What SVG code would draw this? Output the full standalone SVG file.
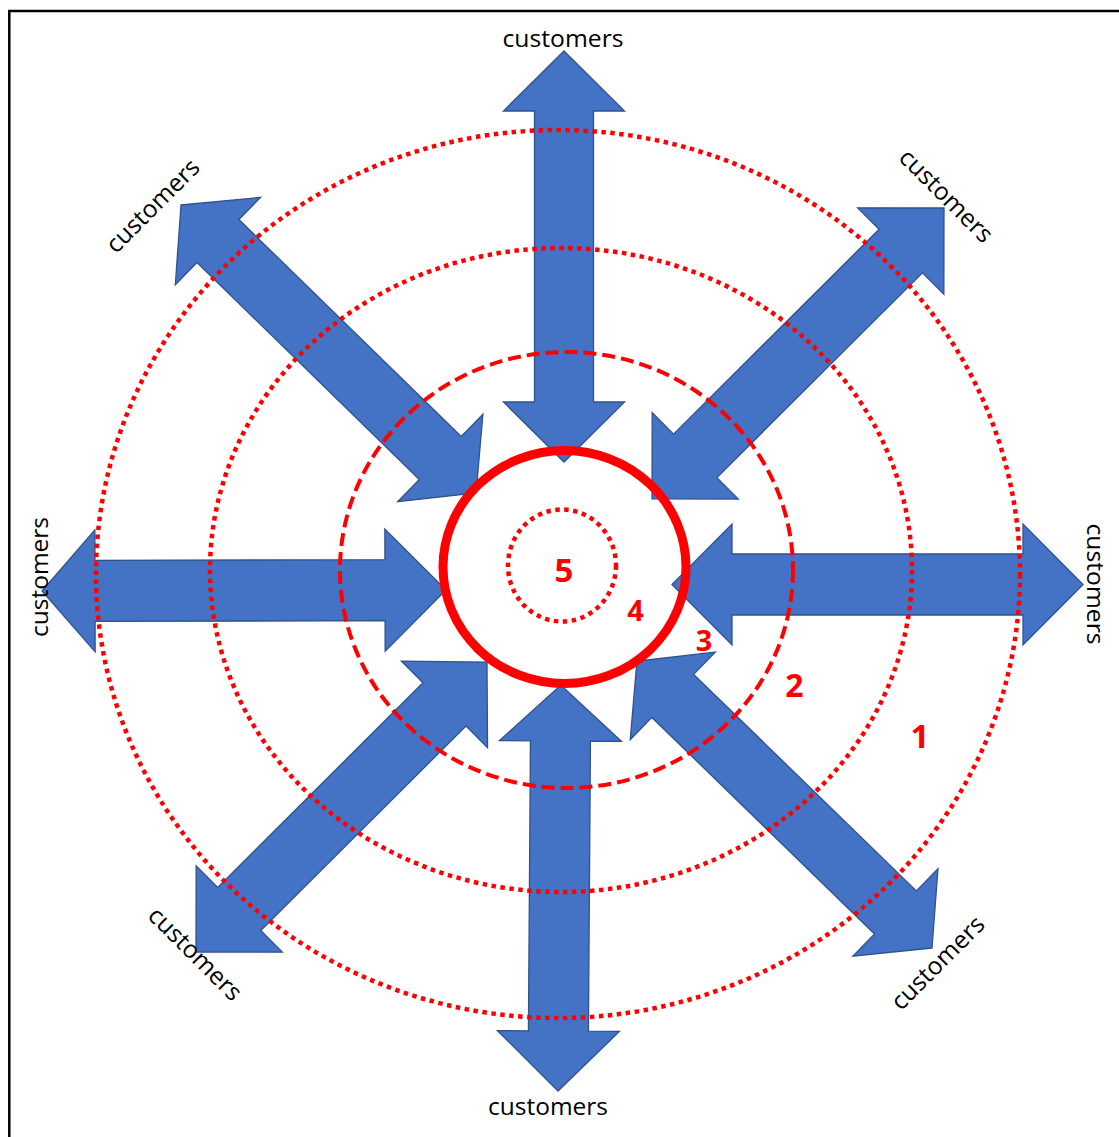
<svg xmlns="http://www.w3.org/2000/svg" width="1119" height="1137" viewBox="0 0 1119 1137">
<style>
.arrow{fill:#4472C4;stroke:#2F528F;stroke-width:1.3;stroke-linejoin:miter}
.lbl{font-family:"Open Sans","Noto Sans",sans-serif;font-size:24.5px;fill:#000;text-anchor:middle}
.num{font-family:"Open Sans","Noto Sans",sans-serif;font-weight:bold;fill:#FF0000;text-anchor:middle;dominant-baseline:central}
.dot{fill:none;stroke:#FF0000;stroke-width:4.5;stroke-dasharray:4.5 4.5}
.dash{fill:none;stroke:#FF0000;stroke-width:4;stroke-dasharray:13 6}
.solid{fill:none;stroke:#FF0000;stroke-width:9}
</style>
<rect x="0" y="0" width="1119" height="1137" fill="#FFFFFF"/>
<g id="border" fill="none" stroke="#000" stroke-width="2.5">
<path d="M9.3,1137 V11 H1119"/>
</g>
<g id="connectors">
<g id="arrow-n"><polygon class="arrow" transform="translate(564,51) rotate(90)" points="0,0 60,-60.5 60,-29.5 351,-29.5 351,-60.5 411,0 351,60.5 351,29.5 60,29.5 60,60.5"/></g>
<g id="arrow-s"><polygon class="arrow" transform="translate(558,1091) rotate(-89.6)" points="0,0 60,-61 60,-30 350,-30 350,-61 406,0 350,61 350,30 60,30 60,61"/></g>
<g id="arrow-w"><polygon class="arrow" transform="translate(42,591) rotate(-0.14)" points="0,0 53,-61 53,-30.5 343,-30.5 343,-61 404,0 343,61 343,30.5 53,30.5 53,61"/></g>
<g id="arrow-e"><polygon class="arrow" transform="translate(1083,584.5) rotate(180)" points="0,0 60,-60.5 60,-30.5 351,-30.5 351,-60.5 411,0 351,60.5 351,30.5 60,30.5 60,60.5"/></g>
<g id="arrow-nw"><polygon class="arrow" transform="translate(181,205) rotate(44.3)" points="0,0 51.6,-61 51.6,-30 362.3,-30 362.3,-61 412.3,0 362.3,61 362.3,30 51.6,30 51.6,61"/></g>
<g id="arrow-ne"><polygon class="arrow" transform="translate(944,208) rotate(135.1)" points="0,0 61,-61 61,-30.7 351.2,-30.7 351.2,-61 412.2,0 351.2,61 351.2,30.7 61,30.7 61,61"/></g>
<g id="arrow-sw"><polygon class="arrow" transform="translate(196,952) rotate(-44.9)" points="0,0 61,-61 61,-30.5 350.8,-30.5 350.8,-61 410.8,0 350.8,61 350.8,30.5 61,30.5 61,61"/></g>
<g id="arrow-se"><polygon class="arrow" transform="translate(932,948) rotate(224.2)" points="0,0 51,-61 51,-30 361.6,-30 361.6,-61 411.6,0 361.6,61 361.6,30 51,30 51,61"/></g>
</g>
<g id="rings">
<ellipse id="ring1" class="dot" cx="558" cy="574" rx="462" ry="444"/>
<ellipse id="ring2" class="dot" cx="561" cy="570" rx="351" ry="322"/>
<ellipse id="ring3" class="dash" cx="566.5" cy="570" rx="226.5" ry="218"/>
<ellipse id="ring4" class="solid" cx="564.5" cy="567" rx="121.5" ry="116.5"/>
<ellipse id="ring5" class="dot" cx="562" cy="565.5" rx="54" ry="56"/>
</g>
<g id="numbers">
<text class="num" x="564" y="569" font-size="33">5</text>
<text class="num" x="635.5" y="609" font-size="29">4</text>
<text class="num" x="704" y="639.5" font-size="29">3</text>
<text class="num" x="794.5" y="684.5" font-size="32">2</text>
<text class="num" x="920" y="735" font-size="33">1</text>
</g>
<g id="labels">
<text class="lbl" transform="translate(563,38)" x="0" y="9" textLength="121" lengthAdjust="spacingAndGlyphs">customers</text>
<text class="lbl" transform="translate(548,1106)" x="0" y="9" textLength="120" lengthAdjust="spacingAndGlyphs">customers</text>
<text class="lbl" transform="translate(39.5,577) rotate(-90)" x="0" y="8" textLength="120" lengthAdjust="spacingAndGlyphs">customers</text>
<text class="lbl" transform="translate(1095,584) rotate(90)" x="0" y="8" textLength="121" lengthAdjust="spacingAndGlyphs">customers</text>
<text class="lbl" transform="translate(153,206) rotate(-45)" x="0" y="8" textLength="121" lengthAdjust="spacingAndGlyphs">customers</text>
<text class="lbl" transform="translate(946,196) rotate(45)" x="0" y="8" textLength="121" lengthAdjust="spacingAndGlyphs">customers</text>
<text class="lbl" transform="translate(195,954) rotate(45)" x="0" y="8" textLength="121" lengthAdjust="spacingAndGlyphs">customers</text>
<text class="lbl" transform="translate(938,963) rotate(-45)" x="0" y="8" textLength="121" lengthAdjust="spacingAndGlyphs">customers</text>
</g>
</svg>
